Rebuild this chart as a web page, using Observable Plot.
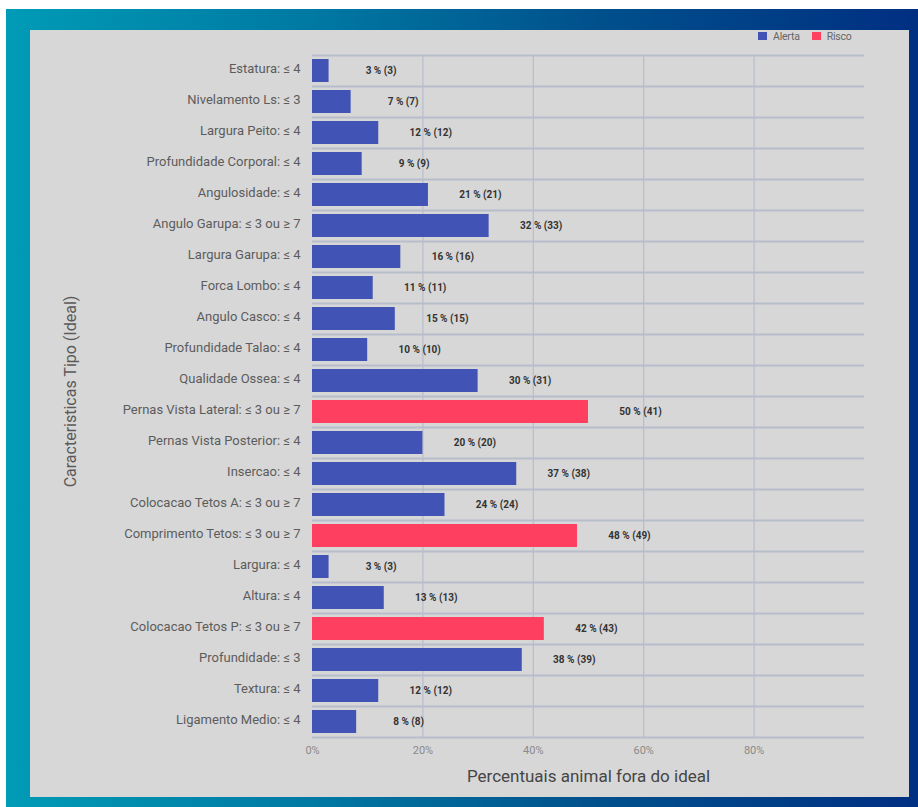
<!DOCTYPE html>
<html>
<head>
<meta charset="utf-8">
<script src="https://cdn.jsdelivr.net/npm/d3@7"></script>
<script src="https://cdn.jsdelivr.net/npm/@observablehq/plot@0.6"></script>
<style>
  html, body { margin: 0; padding: 0; background: #ffffff; }
  #frame { position: absolute; left: 6px; top: 9px; width: 912px; height: 798px;
    background: linear-gradient(90deg, #009bb6 0%, #0077a2 35%, #00508c 65%, #002f82 100%); }
  #panel { position: absolute; left: 30px; top: 30px; width: 879px; height: 767px; background: #d7d7d7; }
  #chart { position: absolute; left: 0; top: 0; }
  #legend { position: absolute; left: 728px; top: -1px; height: 14px; font-family: Roboto, sans-serif; font-size: 10.5px; color: #666;
    display: flex; align-items: center; letter-spacing: -0.2px; }
  #legend .sw { display: inline-block; width: 9px; height: 8px; margin-right: 6px; }
  #legend .item { display: flex; align-items: center; margin-right: 12px; }
</style>
</head>
<body>
<div id="frame"></div>
<div id="panel">
  <div id="chart"></div>
  <div id="legend"></div>
</div>
<script>
const categories = [
  "Estatura: ≤ 4",
  "Nivelamento Ls: ≤ 3",
  "Largura Peito: ≤ 4",
  "Profundidade Corporal: ≤ 4",
  "Angulosidade: ≤ 4",
  "Angulo Garupa: ≤ 3 ou ≥ 7",
  "Largura Garupa: ≤ 4",
  "Forca Lombo: ≤ 4",
  "Angulo Casco: ≤ 4",
  "Profundidade Talao: ≤ 4",
  "Qualidade Ossea: ≤ 4",
  "Pernas Vista Lateral: ≤ 3 ou ≥ 7",
  "Pernas Vista Posterior: ≤ 4",
  "Insercao: ≤ 4",
  "Colocacao Tetos A: ≤ 3 ou ≥ 7",
  "Comprimento Tetos: ≤ 3 ou ≥ 7",
  "Largura: ≤ 4",
  "Altura: ≤ 4",
  "Colocacao Tetos P: ≤ 3 ou ≥ 7",
  "Profundidade: ≤ 3",
  "Textura: ≤ 4",
  "Ligamento Medio: ≤ 4"
];
const percents = [3, 7, 12, 9, 21, 32, 16, 11, 15, 10, 30, 50, 20, 37, 24, 48, 3, 13, 42, 38, 12, 8];
const counts   = [3, 7, 12, 9, 21, 33, 16, 11, 15, 10, 31, 41, 20, 38, 24, 49, 3, 13, 43, 39, 12, 8];
const levels = ["Alerta","Alerta","Alerta","Alerta","Alerta","Alerta","Alerta","Alerta","Alerta","Alerta","Alerta",
  "Risco","Alerta","Alerta","Alerta","Risco","Alerta","Alerta","Risco","Alerta","Alerta","Alerta"];
const legendNames = ["Alerta", "Risco"];
const legendColors = ["#4153b4", "#ff3f5f"];
const xTicks = [0, 20, 40, 60, 80];
const xLabel = "Percentuais animal fora do ideal";
const yLabel = "Caracteristicas Tipo (Ideal)";

const rows = categories.map((c, i) => ({cat: c, pct: percents[i], n: counts[i], level: levels[i]}));

const W = 879, H = 767;
const mL = 282, mR = 45, mT = 25, mB = 60;
const step = (H - mT - mB) / categories.length;
const gridColor = "#b7bdcb";

const plot = Plot.plot({
  width: W, height: H,
  marginLeft: mL, marginRight: mR, marginTop: mT, marginBottom: mB,
  style: {background: "transparent", fontFamily: "Roboto, sans-serif", overflow: "visible"},
  x: {domain: [0, 100], label: null},
  y: {domain: categories, paddingInner: 0.25, paddingOuter: 0.125, label: null},
  color: {domain: legendNames, range: legendColors},
  marks: [
    Plot.ruleX(xTicks.slice(1), {stroke: gridColor, strokeWidth: 1.2}),
    Plot.ruleY(categories, {y: d => d, dy: -step / 2, stroke: gridColor, strokeWidth: 2}),
    Plot.ruleY([categories[categories.length - 1]], {y: d => d, dy: step / 2, stroke: gridColor, strokeWidth: 2}),
    Plot.barX(rows, {y: "cat", x: "pct", fill: "level"}),
    Plot.text(rows, {y: "cat", x: "pct", text: d => `${d.pct} % (${d.n})`, dx: 52,
      fontSize: 10, fontWeight: "bold", fill: "#333", letterSpacing: "-0.2px"}),
    Plot.axisY({tickSize: 0, tickPadding: 12, dy: -2, fontSize: 13, color: "#5c5c5c", label: null}),
    Plot.axisX({ticks: xTicks, tickFormat: d => d + "%", tickSize: 0, tickPadding: 9, fontSize: 11, color: "#8a8a8a", label: null}),
    Plot.text([xLabel], {frameAnchor: "bottom", dy: 44, fontSize: 17, fill: "#454545"}),
    Plot.text([yLabel], {frameAnchor: "left", textAnchor: "middle", rotate: -90, dx: -242, dy: -5, fontSize: 16, fill: "#5a5a5a"})
  ]
});
document.getElementById("chart").appendChild(plot);

const legend = document.getElementById("legend");
legendNames.forEach((name, i) => {
  const item = document.createElement("div");
  item.className = "item";
  const sw = document.createElement("span");
  sw.className = "sw";
  sw.style.background = legendColors[i];
  item.appendChild(sw);
  item.appendChild(document.createTextNode(name));
  legend.appendChild(item);
});
</script>
</body>
</html>
